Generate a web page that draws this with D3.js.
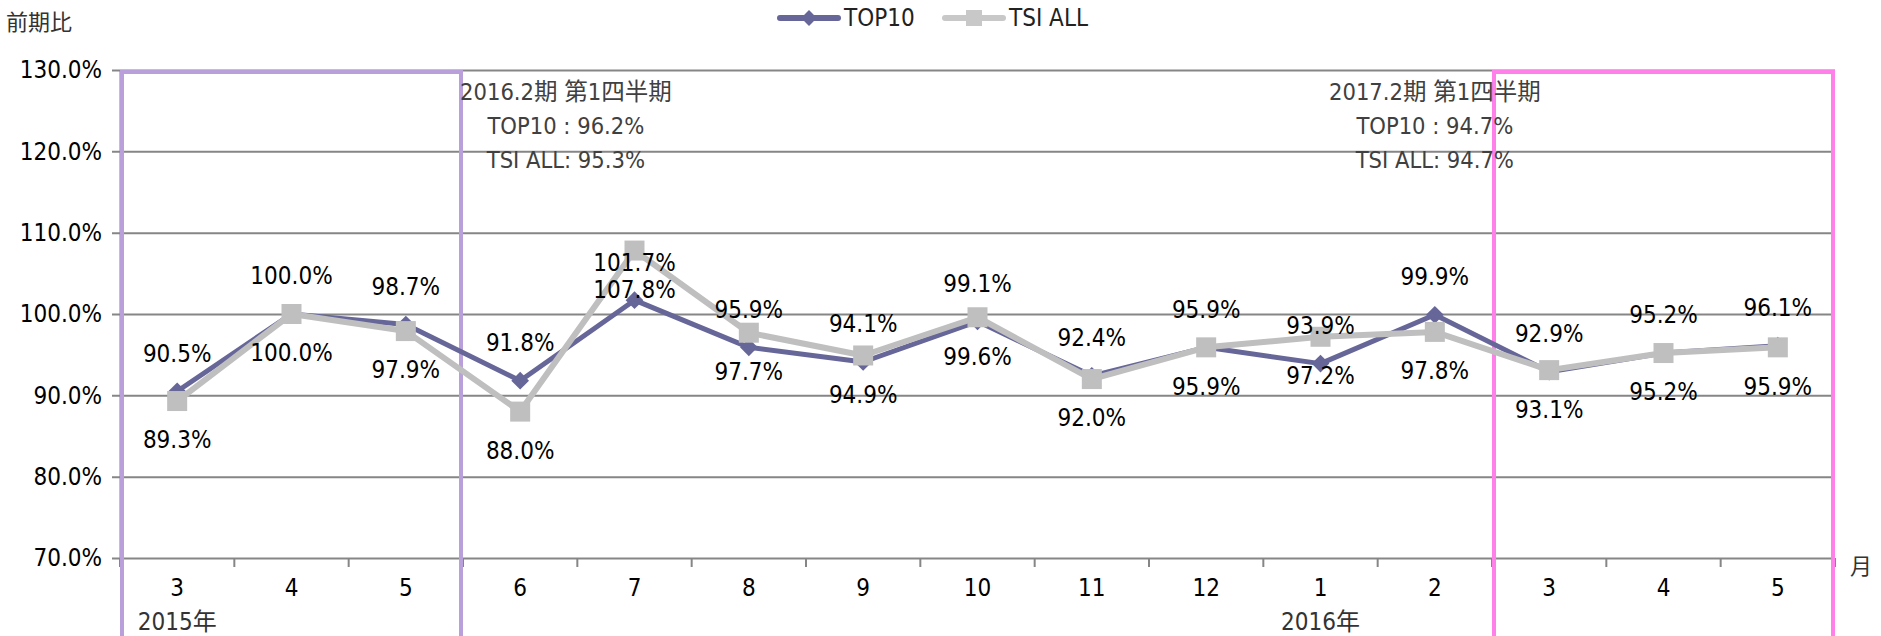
<!DOCTYPE html>
<meta charset="utf-8">
<head>
<script src="https://d3js.org/d3.v7.min.js"></script>
<style>
  body { margin: 0; background: #fff; }
  text { font-family: "Liberation Sans Narrow", "DejaVu Sans Condensed", "Noto Sans CJK JP", sans-serif; }
</style>
</head>
<body>
<div id="my_dataviz"></div>
<script>
// months on the x axis
var months = ["3", "4", "5", "6", "7", "8", "9", "10", "11", "12", "1", "2", "3", "4", "5"];
// year labels: category index -> label
var yearIdx = [0, 10];
var yearLabels = ["2015年", "2016年"];

// series values (%)
var top10 = [90.5, 100.0, 98.7, 91.8, 101.7, 95.9, 94.1, 99.1, 92.4, 95.9, 93.9, 99.9, 92.9, 95.2, 96.1];
var tsiAll = [89.3, 100.0, 97.9, 88.0, 107.8, 97.7, 94.9, 99.6, 92.0, 95.9, 97.2, 97.8, 93.1, 95.2, 95.9];

var yTicks = [70, 80, 90, 100, 110, 120, 130];

// highlighted ranges (category start, end) and annotation text
var boxRanges = [[0, 2], [12, 14]];
var boxColors = ["#b9a0da", "#ff80e8"];
var noteLines = [
  ["2016.2期 第1四半期", "TOP10 : 96.2%", "TSI ALL: 95.3%"],
  ["2017.2期 第1四半期", "TOP10 : 94.7%", "TSI ALL: 94.7%"]
];

var margin = {top: 70, right: 46, bottom: 78, left: 120},
    W = 1881, H = 636,
    width = W - margin.left - margin.right,
    height = H - margin.top - margin.bottom;

var svg = d3.select("#my_dataviz")
  .append("svg")
  .attr("width", W)
  .attr("height", H);

var g = svg.append("g")
  .attr("transform", "translate(" + margin.left + "," + margin.top + ")");

var idx = d3.range(months.length);

var x = d3.scaleBand()
  .domain(idx)
  .range([0, width]);

var y = d3.scaleLinear()
  .domain([70, 130])
  .range([height, 0]);

// grid lines + y axis
var yAxis = g.append("g")
  .call(d3.axisLeft(y).tickValues(yTicks).tickSize(-width).tickSizeOuter(0)
    .tickFormat(function(d) { return d.toFixed(1) + "%"; }));
yAxis.select(".domain").attr("stroke", "#868686").attr("stroke-width", 2);
yAxis.selectAll(".tick line").attr("stroke", "#868686").attr("stroke-width", 2).attr("x1", -8);
yAxis.selectAll(".tick text")
  .attr("x", -18)
  .style("font-size", "24px")
  .attr("fill", "#000");

// x axis boundary ticks
var edges = d3.range(months.length + 1);
g.append("g").selectAll("line")
  .data(edges)
  .enter().append("line")
  .attr("x1", function(d) { return d * x.bandwidth(); })
  .attr("x2", function(d) { return d * x.bandwidth(); })
  .attr("y1", height)
  .attr("y2", height + 9)
  .attr("stroke", "#868686")
  .attr("stroke-width", 2);

// month labels
g.append("g").selectAll("text")
  .data(months)
  .enter().append("text")
  .attr("x", function(d, i) { return x(i) + x.bandwidth() / 2; })
  .attr("y", height + 30)
  .attr("dy", "0.35em")
  .attr("text-anchor", "middle")
  .style("font-size", "24px")
  .text(function(d) { return d; });

// year labels
g.append("g").selectAll("text")
  .data(yearIdx)
  .enter().append("text")
  .attr("x", function(d) { return x(d) + x.bandwidth() / 2; })
  .attr("y", height + 64)
  .attr("dy", "0.35em")
  .attr("text-anchor", "middle")
  .attr("fill", "#333")
  .style("font-size", "24px")
  .text(function(d, i) { return yearLabels[i]; });

// 月
g.append("text")
  .attr("x", width + 26)
  .attr("y", height + 8)
  .attr("dy", "0.35em")
  .attr("text-anchor", "middle")
  .attr("fill", "#333")
  .style("font-size", "22px")
  .text("月");

// y axis title
svg.append("text")
  .attr("x", 6)
  .attr("y", 22)
  .attr("dy", "0.35em")
  .attr("fill", "#333")
  .style("font-size", "22px")
  .text("前期比");

// highlight boxes
g.append("g").selectAll("path")
  .data(boxRanges)
  .enter().append("path")
  .attr("d", function(r) {
    var x0 = x(r[0]) + 2, x1 = x(r[1]) + x.bandwidth() - 2, y0 = 2, y1 = H;
    return "M" + x0 + "," + y1 + "V" + y0 + "H" + x1 + "V" + y1;
  })
  .attr("fill", "none")
  .attr("stroke", function(d, i) { return boxColors[i]; })
  .attr("stroke-width", 4);

// annotations (text boxes sit at these points, in category units)
var noteAt = [3.9, 11.5];
noteLines.forEach(function(lines, k) {
  var cx = noteAt[k] * x.bandwidth();
  var t = g.append("text")
    .attr("fill", "#404040")
    .style("font-size", "23.5px");
  lines.forEach(function(s, j) {
    t.append("tspan")
      .attr("x", cx)
      .attr("y", 22 + j * 34)
      .attr("dy", "0.35em")
      .attr("text-anchor", "middle")
      .text(s);
  });
});

var line = d3.line()
  .x(function(d, i) { return x(i) + x.bandwidth() / 2; })
  .y(function(d) { return y(d); });

// TOP10 series
g.append("path")
  .datum(top10)
  .attr("d", line)
  .attr("fill", "none")
  .attr("stroke", "#666699")
  .attr("stroke-width", 5)
  .attr("stroke-linejoin", "round");
g.append("g").selectAll("path")
  .data(top10)
  .enter().append("path")
  .attr("d", d3.symbol().type(d3.symbolDiamond2).size(200))
  .attr("transform", function(d, i) { return "translate(" + (x(i) + x.bandwidth() / 2) + "," + y(d) + ")"; })
  .attr("fill", "#666699");

// TSI ALL series
g.append("path")
  .datum(tsiAll)
  .attr("d", line)
  .attr("fill", "none")
  .attr("stroke", "#bfbfbf")
  .attr("stroke-width", 6)
  .attr("stroke-linejoin", "round");
g.append("g").selectAll("rect")
  .data(tsiAll)
  .enter().append("rect")
  .attr("x", function(d, i) { return x(i) + x.bandwidth() / 2 - 10; })
  .attr("y", function(d) { return y(d) - 10; })
  .attr("width", 20)
  .attr("height", 20)
  .attr("fill", "#bfbfbf");

// data labels: TOP10 above, TSI ALL below
g.append("g").selectAll("text")
  .data(top10)
  .enter().append("text")
  .attr("x", function(d, i) { return x(i) + x.bandwidth() / 2; })
  .attr("y", function(d) { return y(d) - 38; })
  .attr("dy", "0.35em")
  .attr("text-anchor", "middle")
  .style("font-size", "24px")
  .text(function(d) { return d.toFixed(1) + "%"; });
g.append("g").selectAll("text")
  .data(tsiAll)
  .enter().append("text")
  .attr("x", function(d, i) { return x(i) + x.bandwidth() / 2; })
  .attr("y", function(d) { return y(d) + 39; })
  .attr("dy", "0.35em")
  .attr("text-anchor", "middle")
  .style("font-size", "24px")
  .text(function(d) { return d.toFixed(1) + "%"; });

// legend
var legendData = [
  {label: "TOP10", color: "#666699", shape: "diamond", x: 780},
  {label: "TSI ALL", color: "#c8c8c8", shape: "square", x: 945}
];
var legend = svg.append("g");
legendData.forEach(function(d) {
  legend.append("line")
    .attr("x1", d.x).attr("x2", d.x + 58)
    .attr("y1", 18).attr("y2", 18)
    .attr("stroke", d.color)
    .attr("stroke-width", 6)
    .attr("stroke-linecap", "round");
  if (d.shape === "diamond") {
    legend.append("path")
      .attr("d", d3.symbol().type(d3.symbolDiamond2).size(160))
      .attr("transform", "translate(" + (d.x + 29) + ",18)")
      .attr("fill", d.color);
  } else {
    legend.append("rect")
      .attr("x", d.x + 21).attr("y", 10)
      .attr("width", 16).attr("height", 16)
      .attr("fill", d.color);
  }
  legend.append("text")
    .attr("x", d.x + 64)
    .attr("y", 18)
    .attr("dy", "0.35em")
    .attr("fill", "#222")
    .style("font-size", "24px")
    .text(d.label);
});
</script>
</body>
